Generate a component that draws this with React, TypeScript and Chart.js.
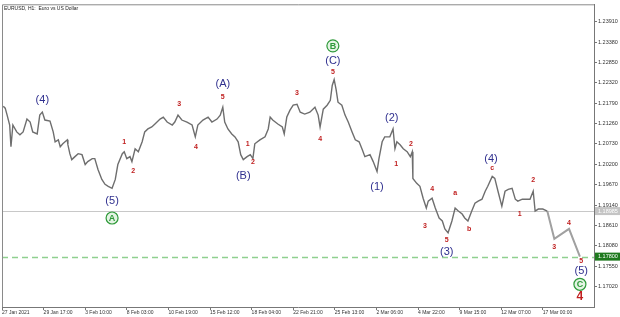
import { useEffect, useRef } from "react";
import { Chart, registerables } from "chart.js";

Chart.register(...registerables);

// hourly bar index (0 = 27 Jan 2021 00:00) and close prices
const barIndex = [2, 5, 8, 12, 14, 17, 23, 28, 33, 39, 44, 48, 55, 59, 63, 67, 75, 80, 83, 88, 91, 95, 102, 103, 106, 109, 114, 119, 125, 130, 134, 141, 145, 150, 156, 161, 166, 172, 177, 181, 188, 191, 195, 200, 203, 208, 213, 219, 223, 228, 234, 239, 247, 252, 258, 266, 270, 275, 281, 289, 297, 302, 306, 314, 322, 328, 336, 341, 345, 348, 353, 359, 364, 369, 373, 377, 383, 388, 392, 395, 403, 411, 416, 419, 423, 431, 438, 441, 445, 450, 455, 461, 466, 473, 481, 489, 494, 497, 502, 508, 513, 516, 519, 522, 525, 531, 536, 541, 547, 552, 558, 563, 567, 575, 580, 586, 589, 594, 598, 606, 611, 614, 617, 622, 627, 633, 638, 641, 642, 648, 653, 658, 663, 666, 672, 677, 683, 688, 692, 697, 703, 708, 713, 719, 723, 728, 734, 739, 744, 750, 755, 759, 766, 770, 775, 781, 786, 791, 797, 802, 806, 813, 820, 825, 830, 833, 838, 845, 852];
const closePrices = [1.21713, 1.21661, 1.21481, 1.21224, 1.20658, 1.21224, 1.21044, 1.20967, 1.21044, 1.21378, 1.21301, 1.21044, 1.20992, 1.21481, 1.21558, 1.21353, 1.21327, 1.21044, 1.20787, 1.20838, 1.20658, 1.20735, 1.20838, 1.20709, 1.20478, 1.20323, 1.20401, 1.20478, 1.20452, 1.20195, 1.20272, 1.20349, 1.20349, 1.20066, 1.19809, 1.1968, 1.19629, 1.19577, 1.19809, 1.20195, 1.20478, 1.20529, 1.20349, 1.20401, 1.20272, 1.20606, 1.20529, 1.20787, 1.21044, 1.21121, 1.21172, 1.2125, 1.21378, 1.2143, 1.21301, 1.21224, 1.21301, 1.21481, 1.21353, 1.21301, 1.21224, 1.20915, 1.21224, 1.21353, 1.2143, 1.21301, 1.21378, 1.21481, 1.21687, 1.21301, 1.21121, 1.20992, 1.20915, 1.20787, 1.20452, 1.20323, 1.20401, 1.20452, 1.20349, 1.20735, 1.20838, 1.20915, 1.21121, 1.2143, 1.21353, 1.2125, 1.21172, 1.20992, 1.2143, 1.2161, 1.21739, 1.21764, 1.21558, 1.21507, 1.21558, 1.21687, 1.21481, 1.21172, 1.21636, 1.21739, 1.21867, 1.22253, 1.22408, 1.2215, 1.21816, 1.21739, 1.21481, 1.21301, 1.21044, 1.20838, 1.20787, 1.20581, 1.20401, 1.20452, 1.20272, 1.20015, 1.20349, 1.20787, 1.20915, 1.20915, 1.21121, 1.20606, 1.20787, 1.20709, 1.20606, 1.20529, 1.20401, 1.20529, 1.19835, 1.19706, 1.19629, 1.1932, 1.19063, 1.19243, 1.1932, 1.19063, 1.18805, 1.18728, 1.18522, 1.18419, 1.18728, 1.19063, 1.18985, 1.18908, 1.18805, 1.18728, 1.18985, 1.19191, 1.19243, 1.19294, 1.195, 1.19629, 1.19886, 1.19835, 1.195, 1.19114, 1.195, 1.19551, 1.19577, 1.19294, 1.19243, 1.19294, 1.19294, 1.19294, 1.195, 1.18985, 1.19037, 1.19037, 1.18985];

// projected path (wave 3-4-5)
const forecastBars = [852, 863, 886, 903];
const forecastPrices = [1.18985, 1.18265, 1.18522, 1.17802];

const currentPrice = 1.18985;
const targetPrice = 1.178;

const xTickValues = [0, 65, 130, 195, 260, 325, 390, 455, 520, 585, 650, 715, 780, 845];
const xTickLabels = ["27 Jan 2021", "29 Jan 17:00", "3 Feb 10:00", "8 Feb 03:00", "10 Feb 19:00", "15 Feb 12:00", "18 Feb 04:00", "22 Feb 21:00", "25 Feb 13:00", "2 Mar 06:00", "4 Mar 22:00", "9 Mar 15:00", "12 Mar 07:00", "17 Mar 00:00"];
const yTickValues = [1.1702, 1.1755, 1.1808, 1.1861, 1.1914, 1.1967, 1.202, 1.2073, 1.2126, 1.2179, 1.2232, 1.2285, 1.2338, 1.2391];

// wave labels: text, bar, price, kind (w = wave degree, s = sub-wave, c = circled, b = big)
const labelTexts = ["(4)", "(5)", "A", "1", "2", "3", "4", "5", "(A)", "(B)", "1", "2", "3", "4", "5", "(C)", "B", "(1)", "(2)", "1", "2", "3", "4", "5", "(3)", "a", "b", "c", "(4)", "1", "2", "3", "4", "5", "(5)", "C", "4"];
const labelBars = [63, 172, 172, 191, 205, 277, 303, 345, 345, 377, 384, 392, 461, 497, 517, 517, 517, 586, 609, 616, 639, 661, 672, 695, 695, 708, 730, 766, 764, 809, 830, 863, 886, 905, 905, 903, 903];
const labelPrices = [1.21867, 1.19243, 1.18805, 1.20787, 1.20015, 1.21764, 1.20658, 1.21944, 1.22279, 1.19886, 1.20735, 1.20272, 1.22047, 1.20864, 1.22613, 1.22896, 1.23282, 1.19603, 1.21404, 1.2022, 1.20735, 1.186, 1.19551, 1.18239, 1.17931, 1.19449, 1.18522, 1.20092, 1.20349, 1.18908, 1.19783, 1.18059, 1.18677, 1.17673, 1.17416, 1.17081, 1.16747];
const labelKinds = ["w", "w", "c", "s", "s", "s", "s", "s", "w", "w", "s", "s", "s", "s", "s", "w", "c", "w", "w", "s", "s", "s", "s", "s", "w", "s", "s", "s", "w", "s", "s", "s", "s", "s", "w", "c", "b"];

const BLUE = "#30308f";
const RED = "#c02020";
const GREEN = "#2f9a3a";

const overlayPlugin = {
  id: "overlay",
  beforeDatasetsDraw(chart: any) {
    const { ctx, chartArea, scales } = chart;
    const y = scales.y;
    ctx.save();
    ctx.strokeStyle = "#c8c8c8";
    ctx.lineWidth = 1;
    const yc = Math.round(y.getPixelForValue(currentPrice)) + 0.5;
    ctx.beginPath();
    ctx.moveTo(chartArea.left, yc);
    ctx.lineTo(chartArea.right, yc);
    ctx.stroke();
    ctx.strokeStyle = "#8fd08f";
    ctx.lineWidth = 1.5;
    ctx.setLineDash([6, 4]);
    const yt = Math.round(y.getPixelForValue(targetPrice)) + 0.5;
    ctx.beginPath();
    ctx.moveTo(chartArea.left, yt);
    ctx.lineTo(chartArea.right, yt);
    ctx.stroke();
    ctx.restore();
  },
  afterDatasetsDraw(chart: any) {
    const { ctx, scales } = chart;
    const xs = scales.x;
    const ys = scales.y;
    ctx.save();
    ctx.textAlign = "center";
    ctx.textBaseline = "middle";
    labelTexts.forEach((t, i) => {
      const px = xs.getPixelForValue(labelBars[i]);
      const py = ys.getPixelForValue(labelPrices[i]);
      const k = labelKinds[i];
      if (k === "w") {
        ctx.fillStyle = BLUE;
        ctx.font = "11px 'Liberation Sans', Arial, sans-serif";
        ctx.fillText(t, px, py);
      } else if (k === "s") {
        ctx.fillStyle = RED;
        ctx.font = "bold 7px 'Liberation Sans', Arial, sans-serif";
        ctx.fillText(t, px, py);
      } else if (k === "c") {
        ctx.beginPath();
        ctx.arc(px, py, 6, 0, Math.PI * 2);
        ctx.fillStyle = "#e4f4e4";
        ctx.fill();
        ctx.strokeStyle = GREEN;
        ctx.lineWidth = 1.2;
        ctx.stroke();
        ctx.fillStyle = GREEN;
        ctx.font = "bold 9px 'Liberation Sans', Arial, sans-serif";
        ctx.fillText(t, px, py + 0.5);
      } else {
        ctx.fillStyle = RED;
        ctx.font = "bold 12px 'Liberation Sans', Arial, sans-serif";
        ctx.fillText(t, px, py);
      }
    });
    ctx.restore();
  },
  afterDraw(chart: any) {
    const { ctx, chartArea, scales } = chart;
    const ys = scales.y;
    ctx.save();
    // frame
    ctx.strokeStyle = "#8a8a8a";
    ctx.lineWidth = 1;
    ctx.beginPath();
    ctx.moveTo(chartArea.left + 0.5, chartArea.bottom);
    ctx.lineTo(chartArea.left + 0.5, chartArea.top + 0.5);
    ctx.lineTo(chartArea.right, chartArea.top + 0.5);
    ctx.stroke();
    // title
    ctx.fillStyle = "#222";
    ctx.font = "5px 'Liberation Sans', Arial, sans-serif";
    ctx.textAlign = "left";
    ctx.textBaseline = "top";
    ctx.fillText("EURUSD, H1:  Euro vs US Dollar", chartArea.left + 2, chartArea.top + 2);
    // price boxes on the axis
    const boxes: [number, string, string][] = [
      [currentPrice, "#c4c4c4", "#ffffff"],
      [targetPrice, "#1f7a1f", "#ffffff"],
    ];
    ctx.textBaseline = "middle";
    boxes.forEach(([v, bg, fg]) => {
      const py = ys.getPixelForValue(v);
      ctx.fillStyle = bg;
      ctx.fillRect(chartArea.right + 1, py - 4, 25, 8);
      ctx.fillStyle = fg;
      ctx.font = "5.5px 'Liberation Sans', Arial, sans-serif";
      ctx.fillText(v.toFixed(5), chartArea.right + 4, py);
    });
    ctx.restore();
  },
};

export default function App() {
  const ref = useRef<HTMLCanvasElement | null>(null);
  useEffect(() => {
    if (!ref.current) return;
    const chart = new Chart(ref.current, {
      type: "line",
      data: {
        datasets: [
          {
            data: barIndex.map((b, i) => ({ x: b, y: closePrices[i] })),
            borderColor: "#6e6e6e",
            borderWidth: 1.4,
            pointRadius: 0,
            tension: 0,
          },
          {
            data: forecastBars.map((b, i) => ({ x: b, y: forecastPrices[i] })),
            borderColor: "#a0a0a0",
            borderWidth: 2,
            pointRadius: 0,
            tension: 0,
          },
        ],
      },
      options: {
        animation: false,
        responsive: false,
        devicePixelRatio: 1,
        layout: { padding: { left: 2, top: 1, right: 0, bottom: 0 } },
        plugins: { legend: { display: false }, tooltip: { enabled: false }, title: { display: false } },
        scales: {
          x: {
            type: "linear",
            min: 0,
            max: 925,
            afterBuildTicks: (s: any) => {
              s.ticks = xTickValues.map((v) => ({ value: v }));
            },
            afterFit: (s: any) => {
              s.height = 10;
            },
            ticks: {
              autoSkip: false,
              maxRotation: 0,
              align: "start",
              padding: 0,
              color: "#333",
              font: { size: 5, family: "'Liberation Sans', Arial, sans-serif" },
              callback: (_v: any, i: number) => xTickLabels[i],
            },
            grid: { drawOnChartArea: false, drawTicks: true, tickLength: 3, color: "#777" },
            border: { display: true, color: "#777" },
          },
          y: {
            type: "linear",
            position: "right",
            min: 1.1649,
            max: 1.24363,
            afterBuildTicks: (s: any) => {
              s.ticks = yTickValues.map((v) => ({ value: v }));
            },
            afterFit: (s: any) => {
              s.width = 26;
            },
            ticks: {
              autoSkip: false,
              padding: 1,
              color: "#333",
              font: { size: 5.5, family: "'Liberation Sans', Arial, sans-serif" },
              callback: (v: any) => Number(v).toFixed(5),
            },
            grid: { drawOnChartArea: false, drawTicks: true, tickLength: 3, color: "#777" },
            border: { display: true, color: "#777" },
          },
        },
      },
      plugins: [overlayPlugin],
    });
    return () => chart.destroy();
  }, []);
  return (
    <div style={{ position: "absolute", left: 0, top: 0, width: 620, height: 317, background: "#fff" }}>
      <canvas ref={ref} width={620} height={317} style={{ display: "block" }} />
    </div>
  );
}
